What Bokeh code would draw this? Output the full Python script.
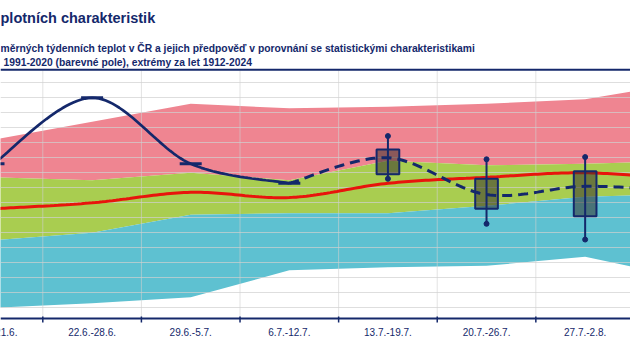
import numpy as np
from bokeh.plotting import figure
from bokeh.models import Grid, FixedTicker, Label, Range1d, Span
from bokeh.core.properties import value
from bokeh.embed import file_html
from bokeh.resources import INLINE

# ---------------- data ----------------
weeks = ["15.6.-21.6.", "22.6.-28.6.", "29.6.-5.7.", "6.7.-12.7.",
         "13.7.-19.7.", "20.7.-26.7.", "27.7.-2.8.", "3.8.-9.8."]
t_max = [21.2, 22.4, 23.6, 23.3, 23.4, 23.6, 23.9, 25.0]      # extreme max 1912-2024
t_upper = [18.7, 18.5, 19.0, 18.5, 19.8, 19.5, 19.6, 19.8]    # upper edge of normal band
t_normal = [16.6, 17.0, 17.7, 17.35, 18.3, 18.7, 19.0, 18.55]  # normal 1991-2020
t_lower = [14.5, 15.0, 16.2, 16.3, 16.3, 16.8, 17.4, 17.6]    # lower edge of normal band
t_min = [10.0, 10.3, 10.7, 12.5, 12.7, 12.8, 13.4, 12.0]      # extreme min 1912-2024

obs_weeks = [0, 1, 2, 3]
observed = [19.6, 24.0, 19.6, 18.3]
fc_weeks = [3, 4, 5, 6, 7]
forecast = [18.3, 20.0, 17.55, 18.1, 17.75]

box_weeks = [4, 5, 6]
box_hi = [21.45, 19.9, 20.05]
box_q3 = [20.55, 18.6, 19.1]
box_q1 = [18.9, 16.6, 16.1]
box_lo = [18.6, 15.6, 14.55]

grid_values = list(range(10, 26))
shown_weeks = 7   # weeks whose labels fall inside the picture

# ---------------- style / geometry ----------------
NAVY = "#14286B"
PINK = "#EF8591"
GREEN = "#A9CD50"
BLUE = "#5EC1D1"
RED = "#E8140C"
FONT = "Liberation Sans"
PX = 15.0                      # pixels per degree
Y_AT_10 = 307.3                # canvas y of the 10 degree gridline


def yv(canvas_y):
    """degree value located at a given canvas pixel row"""
    return 10 + (Y_AT_10 - canvas_y) / PX


Y_AXIS = yv(318)
Y_PLOT_TOP = yv(70)


def smooth(xs, ys, n=30):
    """Bezier smoothing through the given points (Excel-like smoothed line)."""
    P = np.column_stack([np.asarray(xs, float), np.asarray(ys, float)])
    out = []
    t = np.linspace(0, 1, n)[:, None]
    for i in range(len(P) - 1):
        p0 = P[i - 1] if i > 0 else P[i]
        p1, p2 = P[i], P[i + 1]
        p3 = P[i + 2] if i + 2 < len(P) else P[i + 1]
        c1 = p1 + (p2 - p0) / 6.0
        c2 = p2 - (p3 - p1) / 6.0
        seg = ((1 - t) ** 3) * p1 + 3 * ((1 - t) ** 2) * t * c1 + 3 * (1 - t) * t ** 2 * c2 + t ** 3 * p2
        out.append(seg if i == 0 else seg[1:])
    arr = np.vstack(out)
    return arr[:, 0], arr[:, 1]


xs = list(range(len(weeks)))
boundaries = [i + 0.5 for i in range(-1, len(weeks))]
nb = len(boundaries)

p = figure(width=630, height=354,
           x_range=Range1d(0.071, 6.46), y_range=Range1d(yv(354), yv(0)),
           output_backend="svg", toolbar_location=None,
           x_axis_location=None, y_axis_location=None,
           min_border_left=0, min_border_right=0,
           min_border_top=0, min_border_bottom=0,
           outline_line_color=None, background_fill_color="white",
           border_fill_color="white")
p.center = []

# colored bands
p.varea(x=xs, y1=t_upper, y2=t_max, fill_color=PINK, level="image")
p.varea(x=xs, y1=t_lower, y2=t_upper, fill_color=GREEN, level="image")
p.varea(x=xs, y1=t_min, y2=t_lower, fill_color=BLUE, level="image")

# grids (drawn over the bands)
p.add_layout(Grid(dimension=1, ticker=FixedTicker(ticks=grid_values),
                  grid_line_color="#D0D0D0", grid_line_alpha=0.7, level="underlay"))
p.segment(x0=boundaries, y0=[Y_AXIS] * nb, x1=boundaries, y1=[Y_PLOT_TOP] * nb,
          line_color="#D0D0D0", line_alpha=0.6, line_width=1, level="underlay")

# normal line
nx, ny = smooth(xs, t_normal)
p.line(nx, ny, line_color=RED, line_width=3)

# forecast boxes
bw = 0.115
p.quad(left=[b - bw for b in box_weeks], right=[b + bw for b in box_weeks],
       top=box_q3, bottom=box_q1, fill_color="#39332D", fill_alpha=0.55,
       line_color=NAVY, line_width=2)
p.segment(x0=box_weeks, y0=box_lo, x1=box_weeks, y1=box_hi, line_color=NAVY, line_width=2)
p.scatter(x=box_weeks + box_weeks, y=box_hi + box_lo, marker="circle", size=5,
          fill_color=NAVY, line_color=NAVY)

# observed line
ox, oy = smooth(obs_weeks, observed)
p.line(ox, oy, line_color=NAVY, line_width=2.7)
p.scatter(x=obs_weeks, y=observed, marker="dash", size=22, line_color=NAVY, line_width=3)

# forecast line (dashed)
fx, fy = smooth(fc_weeks, forecast)
p.line(fx, fy, line_color=NAVY, line_width=3, line_dash="10 6")

# category axis: line, boundary ticks, week labels
p.add_layout(Span(location=Y_AXIS, dimension="width", line_color=NAVY, line_width=2))
p.segment(x0=boundaries, y0=[yv(316)] * nb, x1=boundaries, y1=[yv(322)] * nb,
          line_color=NAVY, line_width=1.5)
p.text(x=xs[:shown_weeks], y=[yv(331)] * shown_weeks, text=weeks[:shown_weeks],
       text_font=value(FONT), text_font_size="10px", text_color=NAVY,
       text_align="center", text_baseline="middle")

# top rule under the heading
p.add_layout(Span(location=yv(69.3), dimension="width", line_color=NAVY, line_width=2))

# headings (screen units from the canvas bottom)
p.add_layout(Label(x=0, y=354 - 17.3, x_units="screen", y_units="screen",
                   text="plotních charakteristik", text_font=FONT, text_font_size="14.5px",
                   text_font_style="bold", text_color=NAVY, text_baseline="alphabetic"))
p.add_layout(Label(x=0, y=354 - 47.7, x_units="screen", y_units="screen",
                   text="měrných týdenních teplot v ČR a jejich předpověď v porovnání se statistickými charakteristikami",
                   text_font=FONT, text_font_size="10.3px", text_font_style="bold",
                   text_color=NAVY, text_baseline="alphabetic"))
p.add_layout(Label(x=3, y=354 - 61.7, x_units="screen", y_units="screen",
                   text="1991-2020 (barevné pole), extrémy za let 1912-2024",
                   text_font=FONT, text_font_size="10.3px", text_font_style="bold",
                   text_color=NAVY, text_baseline="alphabetic"))

open("out.html", "w").write(file_html(p, INLINE))
